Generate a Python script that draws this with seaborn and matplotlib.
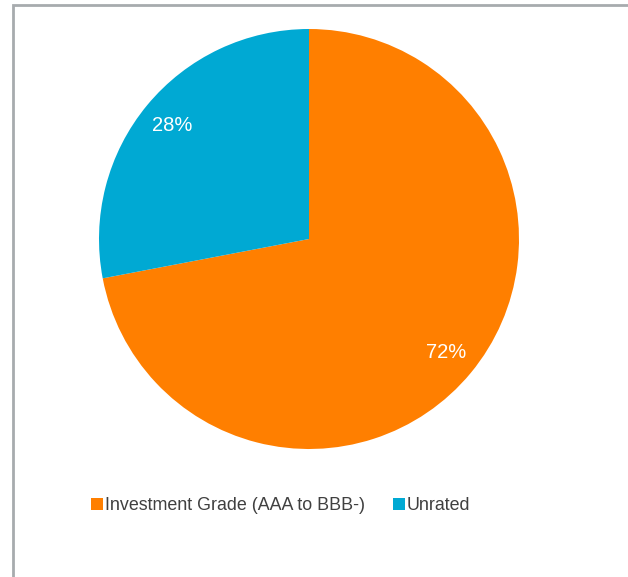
import matplotlib
matplotlib.use("Agg")
import matplotlib.pyplot as plt
from matplotlib.patches import Rectangle
from matplotlib.lines import Line2D
import seaborn as sns

categories = ["Investment Grade (AAA to BBB-)", "Unrated"]
shares = [72, 28]
colors = ["#FF7F00", "#00A9D3"]

sns.set_theme(style="white")
plt.rcParams["font.family"] = ["Liberation Sans", "DejaVu Sans"]

W, H = 628, 577
fig = plt.figure(figsize=(W / 100, H / 100), dpi=100)
fig.patch.set_facecolor("white")

# pie axes: centre (309, 239) px from top-left, radius 210 px
cx, cy, r = 309, 239, 210
ax = fig.add_axes([(cx - r) / W, (H - cy - r) / H, 2 * r / W, 2 * r / H])
wedges, texts, autotexts = ax.pie(
    shares,
    colors=colors,
    startangle=90,
    counterclock=False,
    autopct="%d%%",
    pctdistance=0.845,
    radius=1.0,
    wedgeprops=dict(linewidth=0),
    textprops=dict(color="white", fontsize=14.5),
)
ax.set_xlim(-1, 1)
ax.set_ylim(-1, 1)
ax.set_aspect("equal")
ax.axis("off")

# chart frame (left and top edges visible)
fig.add_artist(Rectangle((12.5 / W, -0.1), 1.2, (H - 5) / H + 0.1,
                         transform=fig.transFigure, fill=False,
                         edgecolor="#A7ABAE", linewidth=2))

handles = [Line2D([0], [0], marker="s", linestyle="", markersize=8.5,
                  markerfacecolor=c, markeredgewidth=0) for c in colors]
fig.legend(handles, categories, loc="center", ncol=2,
           bbox_to_anchor=(281 / W, 1 - 506 / H), frameon=False,
           fontsize=12.9, handlelength=0.6, handletextpad=0.15,
           columnspacing=1.6, labelcolor="#404040")

fig.savefig("out.png", dpi=100, facecolor="white")
